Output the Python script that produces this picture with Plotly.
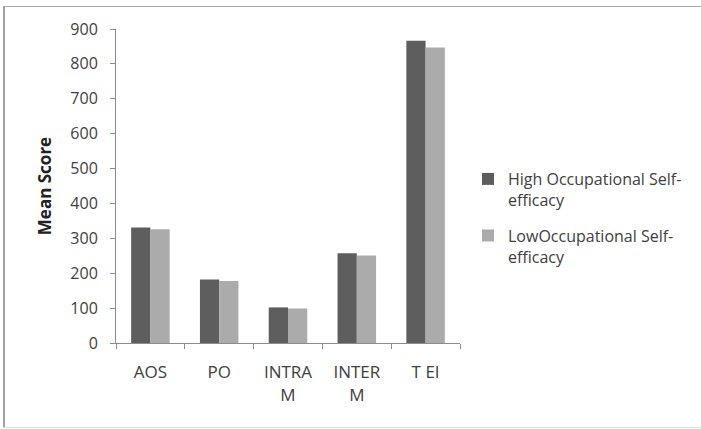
import plotly.graph_objects as go

# Mean scores by dimension for two occupational self-efficacy groups
categories = ["AOS", "PO", "INTRA<br>M", "INTER<br>M", "T EI"]
high_efficacy = [331, 182, 102, 257, 866]
low_efficacy = [326, 178, 99, 251, 847]
series_names = ["High Occupational Self-<br>efficacy", "LowOccupational Self-<br>efficacy"]
y_ticks = [0, 100, 200, 300, 400, 500, 600, 700, 800, 900]

FONT = "'Open Sans', Lato, Arial, sans-serif"
TEXT = "#404040"

fig = go.Figure()
fig.add_trace(go.Bar(x=categories, y=high_efficacy, name=series_names[0],
                     legendgroup="high",
                     marker=dict(color="#5e5e5e", line=dict(width=0))))
fig.add_trace(go.Bar(x=categories, y=low_efficacy, name=series_names[1],
                     legendgroup="low",
                     marker=dict(color="#ababab", line=dict(width=0))))

W, H = 701, 429
ml, mr, mt, mb = 116, 241, 29, 86
pw, ph = W - ml - mr, H - mt - mb

fig.update_layout(
    width=W, height=H,
    margin=dict(l=ml, r=mr, t=mt, b=mb),
    paper_bgcolor="white", plot_bgcolor="white",
    barmode="group", bargap=0.44, bargroupgap=0,
    font=dict(family=FONT, size=15, color=TEXT),
    showlegend=True,
    legend=dict(x=(468 - ml) / pw, y=(343 - 162) / ph, xanchor="left", yanchor="top",
                valign="top", font=dict(size=16, color=TEXT),
                traceorder="grouped", tracegroupgap=12, itemwidth=30,
                bgcolor="rgba(0,0,0,0)"),
    xaxis=dict(showline=True, linecolor="#8c8c8c", linewidth=1,
               ticks="outside", ticklen=5, tickcolor="#8c8c8c",
               tickson="boundaries", showgrid=False, zeroline=False,
               ticklabelstandoff=14,
               tickfont=dict(size=17, color=TEXT)),
    yaxis=dict(range=[0, 900], tickvals=y_ticks, showline=True,
               linecolor="#8c8c8c", linewidth=1, ticks="outside", ticklen=5,
               tickcolor="#8c8c8c", showgrid=False, zeroline=False,
               tickfont=dict(size=16, color=TEXT), ticklabelstandoff=9,
               title=dict(text="<b>Mean Score</b>", font=dict(size=17, color="#222222"),
                          standoff=14)),
)

# Outer chart frame
def px_x(v):
    return (v - ml) / pw

def px_y(v):
    return (H - mb - v) / ph

fig.add_shape(type="line", xref="paper", yref="paper",
              x0=px_x(4), x1=px_x(4), y0=px_y(6), y1=px_y(428),
              line=dict(color="#a0a0a0", width=2))
fig.add_shape(type="line", xref="paper", yref="paper",
              x0=px_x(3), x1=px_x(701), y0=px_y(6.5), y1=px_y(6.5),
              line=dict(color="#a8a8a8", width=1))
fig.add_shape(type="line", xref="paper", yref="paper",
              x0=px_x(3), x1=px_x(701), y0=px_y(427.5), y1=px_y(427.5),
              line=dict(color="#dddddd", width=1))

fig.write_html("out.html")
